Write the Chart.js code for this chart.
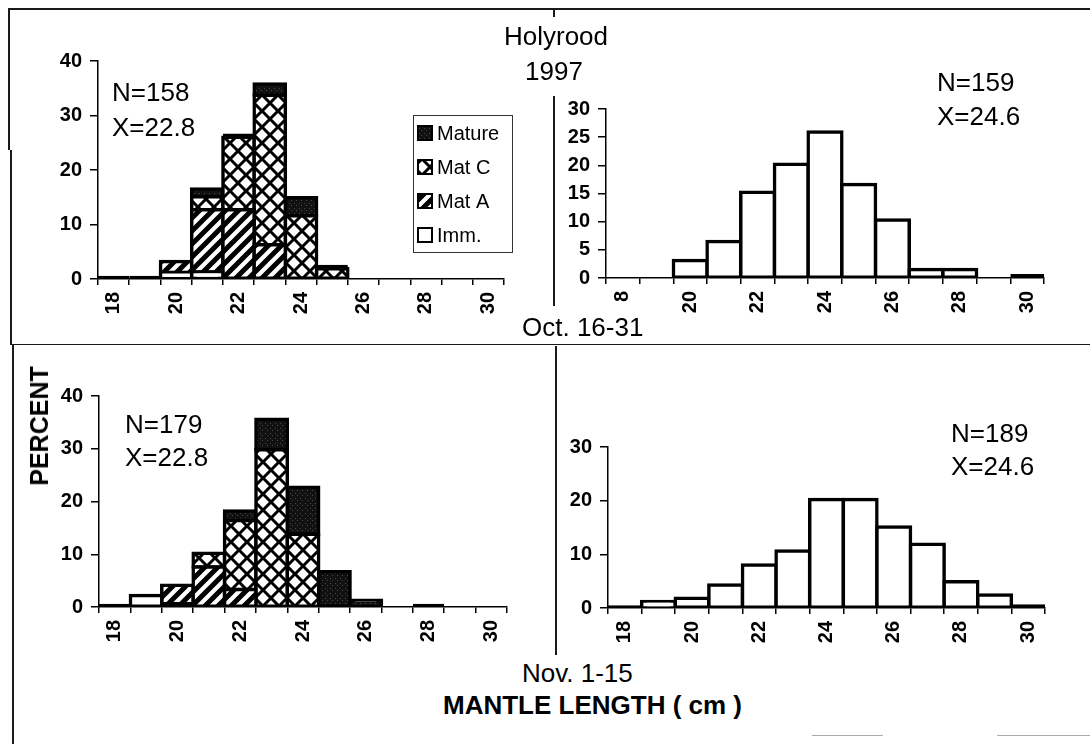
<!DOCTYPE html>
<html>
<head>
<meta charset="utf-8">
<title>Holyrood 1997 - mantle length</title>
<script src="https://cdn.jsdelivr.net/npm/chart.js@4.4.1/dist/chart.umd.min.js"></script>
<style>
  html, body { margin: 0; padding: 0; background: #fff; }
  #page { position: relative; width: 1090px; height: 744px; overflow: hidden;
          font-family: 'Liberation Sans', Arial, sans-serif; color: #000; }
  canvas { position: absolute; }
  .rule { position: absolute; background: #1a1a1a; }
  .txt { position: absolute; white-space: nowrap; font-size: 26px; line-height: 26px; }
  .bold { font-weight: bold; }
</style>
</head>
<body>
<div id="page">
  <!-- frame and dividers -->
  <div class="rule" style="left:8px; top:8px; width:1082px; height:1.5px;"></div>
  <div class="rule" style="left:8px; top:8px; width:1.5px; height:142px;"></div>
  <div class="rule" style="left:10px; top:150px; width:1.5px; height:194px;"></div>
  <div class="rule" style="left:12px; top:344px; width:1.5px; height:400px;"></div>
  <div class="rule" style="left:10px; top:343.5px; width:1080px; height:1.5px;"></div>
  <div class="rule" style="left:553px; top:8px; width:1.5px; height:9px;"></div>
  <div class="rule" style="left:553px; top:96px; width:1.5px; height:210px;"></div>
  <div class="rule" style="left:555px; top:346px; width:1.5px; height:309px;"></div>
  <div class="rule" style="left:812px; top:735px; width:71px; height:1px; background:#aaa;"></div>
  <div class="rule" style="left:997px; top:735px; width:93px; height:1px; background:#aaa;"></div>

  <canvas id="octStages" width="486" height="282" style="left:38px; top:47px;"></canvas>
  <canvas id="octAll" width="518" height="233" style="left:546px; top:95px;"></canvas>
  <canvas id="novStages" width="488" height="275" style="left:39px; top:382px;"></canvas>
  <canvas id="novAll" width="517" height="225" style="left:548px; top:433px;"></canvas>

  <div class="txt" style="left:556px; top:23px; transform:translateX(-50%);">Holyrood</div>
  <div class="txt" style="left:554px; top:58px; transform:translateX(-50%);">1997</div>

  <div class="txt" style="left:112px; top:79px;">N=158</div>
  <div class="txt" style="left:112px; top:114px;">X=22.8</div>
  <div class="txt" style="left:937px; top:69px;">N=159</div>
  <div class="txt" style="left:937px; top:103px;">X=24.6</div>
  <div class="txt" style="left:125px; top:411px;">N=179</div>
  <div class="txt" style="left:125px; top:444px;">X=22.8</div>
  <div class="txt" style="left:951px; top:420px;">N=189</div>
  <div class="txt" style="left:951px; top:453px;">X=24.6</div>

  <div class="txt" style="left:522px; top:314px;">Oct. 16-31</div>
  <div class="txt" style="left:522px; top:660px;">Nov. 1-15</div>
  <div class="txt bold" style="left:443px; top:692px;">MANTLE LENGTH ( cm )</div>
  <div class="txt bold" style="left:39px; top:426px; font-size:25px; transform:translate(-50%,-50%) rotate(-90deg);">PERCENT</div>
</div>

<script>
// Mantle length classes (cm) shared by all four histograms
const lengthBins = [18, 19, 20, 21, 22, 23, 24, 25, 26, 27, 28, 29, 30];
const binTickLabels = ['18', '', '20', '', '22', '', '24', '', '26', '', '28', '', '30'];
const octAllTickLabels = ['8', '', '20', '', '22', '', '24', '', '26', '', '28', '', '30'];

// Oct. 16-31, percent by maturity stage (N=158)
const octImm    = [0.6, 0.6, 1.2, 1.3, 0, 0, 0, 0, 0, 0, 0, 0, 0];
const octMatA   = [0, 0, 2.0, 11.4, 12.7, 6.3, 0, 0, 0, 0, 0, 0, 0];
const octMatC   = [0, 0, 0, 2.4, 13.3, 27.4, 11.6, 1.9, 0, 0, 0, 0, 0];
const octMature = [0, 0, 0, 1.4, 0.7, 2.1, 3.3, 0.7, 0, 0, 0, 0, 0];

// Oct. 16-31, all animals (N=159)
const octAll = [0, 0, 3.1, 6.5, 15.2, 20.2, 25.9, 16.6, 10.3, 1.5, 1.5, 0, 0.7];

// Nov. 1-15, percent by maturity stage (N=179)
const novImm    = [0.6, 2.2, 0.6, 0, 0, 0, 0, 0, 0, 0, 0, 0, 0];
const novMatA   = [0, 0, 3.5, 7.6, 3.3, 0, 0, 0, 0, 0, 0, 0, 0];
const novMatC   = [0, 0, 0, 2.6, 13.1, 29.8, 13.8, 0, 0, 0, 0, 0, 0];
const novMature = [0, 0, 0, 0, 1.8, 5.8, 8.9, 6.7, 1.3, 0, 0.6, 0, 0];

// Nov. 1-15, all animals (N=189)
const novAll = [0.5, 1.2, 1.8, 4.3, 8.0, 10.6, 20.2, 20.2, 15.1, 11.9, 4.9, 2.4, 0.7];

const FONT = "'Liberation Sans', Arial, sans-serif";

// Small repeating tiles used as bar fills
function makePattern(size, paint) {
    const tile = document.createElement('canvas');
    tile.width = tile.height = size;
    const g = tile.getContext('2d');
    g.fillStyle = '#fff';
    g.fillRect(0, 0, size, size);
    paint(g, size);
    return g.createPattern(tile, 'repeat');
}

function forwardSlashes(g, s) {
    g.beginPath();
    g.moveTo(-1, s + 1); g.lineTo(s + 1, -1);
    g.moveTo(-s / 2, s / 2); g.lineTo(s / 2, -s / 2);
    g.moveTo(s / 2, 3 * s / 2); g.lineTo(3 * s / 2, s / 2);
    g.stroke();
}

function backSlashes(g, s) {
    g.beginPath();
    g.moveTo(-1, -1); g.lineTo(s + 1, s + 1);
    g.moveTo(-s / 2, s / 2); g.lineTo(s / 2, 3 * s / 2);
    g.moveTo(s / 2, -s / 2); g.lineTo(3 * s / 2, s / 2);
    g.stroke();
}

const immFill = '#ffffff';

const matAFill = makePattern(13, (g, s) => {
    g.strokeStyle = '#000';
    g.lineWidth = 5;
    forwardSlashes(g, s);
});

const matCFill = makePattern(16, (g, s) => {
    g.strokeStyle = '#000';
    g.lineWidth = 3;
    forwardSlashes(g, s);
    backSlashes(g, s);
});

const matureFill = makePattern(5, (g, s) => {
    g.fillStyle = '#111';
    g.fillRect(0, 0, s, s);
    g.fillStyle = '#4a4a4a';
    g.fillRect(1, 1, 1, 1);
    g.fillRect(3, 3, 1, 1);
});

// Outlines are spread over the bar edge so neighbours share one line;
// very short bars keep their border inside and read as a solid rule.
function barSet(label, data, fill) {
    return {
        label: label,
        data: data,
        backgroundColor: fill,
        borderColor: '#000',
        borderWidth: 3.5,
        borderSkipped: false,
        inflateAmount: ctx => (Math.abs(ctx.raw) < 1 ? 0 : 1.75),
        categoryPercentage: 1,
        barPercentage: 1
    };
}

// Legend box for the maturity stages, drawn inside the plot
const stageLegend = {
    id: 'stageLegend',
    afterDraw(chart) {
        const { ctx, chartArea } = chart;
        const x = chartArea.left + 315;
        const y = chartArea.top + 54;
        const w = 99, h = 137;
        ctx.save();
        ctx.fillStyle = '#fff';
        ctx.fillRect(x, y, w, h);
        ctx.strokeStyle = '#333';
        ctx.lineWidth = 1;
        ctx.strokeRect(x + 0.5, y + 0.5, w, h);
        ctx.font = '20px ' + FONT;
        ctx.textBaseline = 'middle';
        chart.data.datasets.slice().reverse().forEach((ds, i) => {
            const cy = y + 18 + i * 34;
            ctx.fillStyle = ds.backgroundColor;
            ctx.fillRect(x + 5, cy - 7, 14, 14);
            ctx.strokeStyle = '#000';
            ctx.lineWidth = 2;
            ctx.strokeRect(x + 5, cy - 7, 14, 14);
            ctx.fillStyle = '#000';
            ctx.fillText(ds.label, x + 24, cy + 1);
        });
        ctx.restore();
    }
};

function histogram(canvasId, datasets, yMax, yStep, tickLabels, extraPlugins) {
    return new Chart(document.getElementById(canvasId), {
        type: 'bar',
        data: { labels: lengthBins, datasets: datasets },
        options: {
            responsive: false,
            animation: false,
            layout: { padding: { top: 14, right: 20, left: 0, bottom: 0 } },
            plugins: {
                legend: { display: false },
                tooltip: { enabled: false }
            },
            scales: {
                x: {
                    stacked: true,
                    grid: { drawOnChartArea: false, drawTicks: true, tickLength: 6, color: '#000', lineWidth: 1.5, offset: true },
                    border: { display: true, color: '#000', width: 1.5 },
                    ticks: {
                        autoSkip: false,
                        minRotation: 90,
                        maxRotation: 90,
                        padding: 7,
                        color: '#000',
                        font: { family: FONT, size: 20, weight: 'bold' },
                        callback: (value, index) => tickLabels[index]
                    },
                    afterFit: s => { s.height = 50; s.paddingLeft = 0; s.paddingRight = 0; }
                },
                y: {
                    stacked: true,
                    min: 0,
                    max: yMax,
                    grid: { drawOnChartArea: false, drawTicks: true, tickLength: 8, color: '#000', lineWidth: 1.5 },
                    border: { display: true, color: '#000', width: 1.5 },
                    ticks: {
                        stepSize: yStep,
                        padding: 8,
                        color: '#000',
                        font: { family: FONT, size: 20, weight: 'bold' }
                    },
                    afterFit: s => { s.width = 60; s.paddingTop = 0; s.paddingBottom = 0; }
                }
            }
        },
        plugins: extraPlugins || []
    });
}

histogram('octStages', [
    barSet('Imm.', octImm, immFill),
    barSet('Mat A', octMatA, matAFill),
    barSet('Mat C', octMatC, matCFill),
    barSet('Mature', octMature, matureFill)
], 40, 10, binTickLabels, [stageLegend]);

histogram('octAll', [barSet('All', octAll, immFill)], 30, 5, octAllTickLabels);

histogram('novStages', [
    barSet('Imm.', novImm, immFill),
    barSet('Mat A', novMatA, matAFill),
    barSet('Mat C', novMatC, matCFill),
    barSet('Mature', novMature, matureFill)
], 40, 10, binTickLabels);

histogram('novAll', [barSet('All', novAll, immFill)], 30, 10, binTickLabels);
</script>
</body>
</html>
